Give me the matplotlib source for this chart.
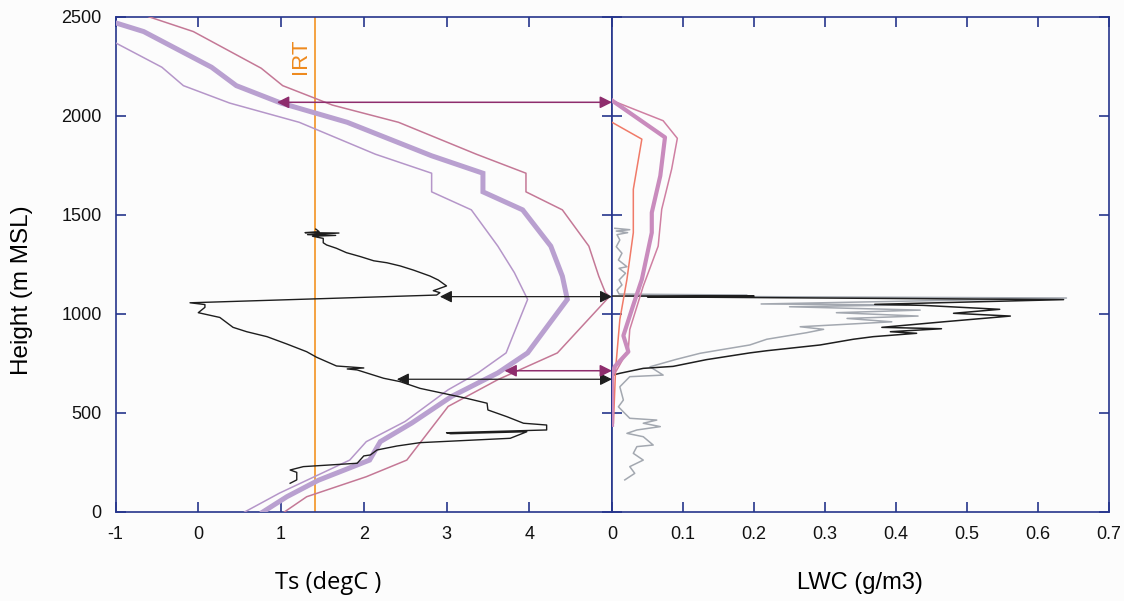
import numpy as np
import matplotlib
matplotlib.use('Agg')
import matplotlib.pyplot as plt

plt.rcParams['font.family'] = ['Liberation Sans', 'DejaVu Sans']

# ---- Ts panel (height in m MSL) ----
ts_mean_x = [-1.0, -0.66, 0.16, 0.46, 1.0, 1.80, 2.82, 3.44, 3.44, 3.92, 4.26, 4.40, 4.46, 3.98, 3.62, 3.06, 2.58, 2.20, 2.07, 1.45, 1.07, 0.78]
ts_mean_y = [2469, 2425, 2245, 2152, 2064, 1967, 1798, 1710, 1616, 1525, 1342, 1190, 1073, 803, 702, 583, 449, 355, 262, 160, 77, 0]

ts_hi_x = [-0.6, -0.06, 0.76, 1.02, 1.62, 2.42, 3.36, 3.96, 3.96, 4.40, 4.72, 4.84, 4.92, 4.97, 4.34, 3.62, 3.02, 2.52, 2.03, 1.31, 1.04]
ts_hi_y = [2500, 2425, 2240, 2152, 2054, 1967, 1806, 1710, 1616, 1525, 1342, 1190, 1107, 1088, 803, 668, 533, 262, 178, 77, 0]

ts_lo_x = [-1.0, -0.44, -0.18, 0.38, 1.22, 2.14, 2.82, 2.82, 3.30, 3.62, 3.82, 3.98, 3.80, 3.72, 3.38, 3.02, 2.50, 2.03, 1.83, 0.98, 0.56]
ts_lo_y = [2368, 2245, 2152, 2064, 1967, 1806, 1710, 1616, 1525, 1342, 1208, 1073, 887, 803, 702, 617, 457, 355, 262, 95, 0]

prof_ts_x = [1.42, 1.46, 1.29, 1.70, 1.32, 1.66, 1.38, 1.51, 1.51, 1.55, 1.67, 1.79, 1.96, 2.12, 2.28,
             2.44, 2.60, 2.80, 2.90, 3.00, 2.84, 2.92, 2.88, -0.10, 0.08, 0.08, 0.00, 0.26, 0.42, 0.585,
             0.83, 1.07, 1.31, 1.43, 1.67, 2.00, 1.80, 1.92, 2.24, 2.44, 2.68, 2.96, 3.24, 3.49, 3.50,
             3.73, 3.93, 4.21, 4.21, 3.00, 3.05, 3.97, 3.77, 2.68, 2.40, 2.16, 2.08, 2.00, 1.92, 1.27,
             1.11, 1.19, 1.19, 1.11]
prof_ts_y = [1428, 1415, 1410, 1408, 1400, 1396, 1392, 1381, 1359, 1348, 1331, 1309, 1289, 1268, 1258,
             1242, 1221, 1191, 1171, 1141, 1117, 1107, 1095, 1056, 1047, 1033, 1006, 982, 932, 910,
             885, 848, 809, 781, 737, 727, 722, 717, 675, 658, 624, 599, 574, 549, 515,
             481, 448, 439, 414, 400, 395, 405, 372, 350, 333, 313, 288, 283, 246, 229,
             212, 200, 162, 145]

irt_ts = 1.41

# ---- LWC panel ----
lwc_mean_x = [0.0, 0.0746, 0.068, 0.056, 0.056, 0.042, 0.030, 0.016, 0.023, 0.004, 0.0, 0.0]
lwc_mean_y = [2077, 1891, 1697, 1511, 1410, 1174, 1045, 890, 809, 735, 700, 440]

lwc_hi_x = [0.0, 0.072, 0.092, 0.084, 0.070, 0.065, 0.044, 0.025, 0.023, 0.007, 0.0]
lwc_hi_y = [2077, 1975, 1886, 1731, 1528, 1342, 1140, 921, 820, 718, 680]

lwc_lo_x = [0.0, 0.042, 0.030, 0.030, 0.021, 0.011, 0.007, 0.005, 0.002]
lwc_lo_y = [1967, 1882, 1629, 1410, 1174, 971, 803, 718, 449]

gray_x = [0.004, 0.025, 0.006, 0.022, 0.007, 0.011, 0.006, 0.014, 0.009, 0.021, 0.010, 0.019, 0.010, 0.014,
          0.007, 0.010, 0.190, 0.020, 0.640, 0.210, 0.415, 0.250, 0.434, 0.316, 0.431, 0.331, 0.394, 0.265,
          0.298, 0.274, 0.218, 0.194, 0.152, 0.124, 0.090, 0.0535, 0.072, 0.025, 0.011, 0.016, 0.009, 0.018,
          0.025, 0.063, 0.044, 0.068, 0.035, 0.021, 0.044, 0.058, 0.035, 0.030, 0.044, 0.025, 0.032, 0.018]
gray_y = [1432, 1425, 1418, 1410, 1400, 1373, 1339, 1306, 1272, 1238, 1230, 1205, 1171, 1146,
          1120, 1100, 1095, 1090, 1080, 1050, 1045, 1036, 1019, 1006, 989, 977, 960, 935,
          922, 905, 872, 843, 818, 801, 770, 733, 691, 683, 632, 565, 531, 498,
          473, 464, 448, 431, 414, 397, 380, 338, 330, 296, 262, 229, 195, 162]

prof_lwc_x = [0.0, 0.20, 0.05, 0.636, 0.37, 0.438, 0.546, 0.481, 0.561, 0.467, 0.380, 0.464, 0.392, 0.429,
              0.368, 0.340, 0.293, 0.218, 0.194, 0.133, 0.086, 0.044, 0.011, 0.0]
prof_lwc_y = [1090, 1090, 1086, 1072, 1048, 1043, 1023, 1003, 989, 960, 932, 925, 910, 902,
              885, 872, 843, 814, 803, 769, 735, 725, 700, 690]

# arrows: (start Ts, height) -> right edge of the Ts panel
arrows_black = [(2.92, 1087), (2.40, 670)]
arrows_purple = [(0.95, 2068), (3.70, 713)]

navy = '#26358c'
bg = '#fcfcfc'

fig = plt.figure(figsize=(11.24, 6.01), dpi=100, facecolor=bg)
ax1 = fig.add_axes([0.1028, 0.1481, 0.4417, 0.8241], facecolor=bg)
ax2 = fig.add_axes([0.5445, 0.1481, 0.4422, 0.8241], facecolor=bg)

ax1.axvline(irt_ts, color='#f39322', lw=1.2, zorder=2)
ax1.text(irt_ts - 0.17, 2300, 'IRT', rotation=90, color='#ee8a1e', fontsize=16,
         ha='center', va='center')

ax1.plot(ts_hi_x, ts_hi_y, color='#c47896', lw=1.1, zorder=3)
ax1.plot(ts_lo_x, ts_lo_y, color='#b596c9', lw=1.1, zorder=3)
ax1.plot(ts_mean_x, ts_mean_y, color='#b9a0d0', lw=3.6, zorder=3, solid_joinstyle='miter')
ax1.plot(prof_ts_x, prof_ts_y, color='#1e1e1e', lw=1.0, zorder=4)

for x0, y0 in arrows_black:
    ax1.annotate('', xy=(5, y0), xytext=(x0, y0),
                 arrowprops=dict(arrowstyle='<|-|>', color='#1e1e1e', lw=0.9,
                                 mutation_scale=18, shrinkA=0, shrinkB=0),
                 annotation_clip=False, zorder=5)
for x0, y0 in arrows_purple:
    ax1.annotate('', xy=(5, y0), xytext=(x0, y0),
                 arrowprops=dict(arrowstyle='<|-|>', color='#8e2d6d', lw=1.1,
                                 mutation_scale=18, shrinkA=0, shrinkB=0),
                 annotation_clip=False, zorder=5)

ax2.plot(gray_x, gray_y, color='#a3a8b0', lw=1.1, zorder=2)
ax2.plot(prof_lwc_x, prof_lwc_y, color='#1e1e1e', lw=1.1, zorder=3)
ax2.plot(lwc_lo_x, lwc_lo_y, color='#f07a68', lw=1.1, zorder=4)
ax2.plot(lwc_hi_x, lwc_hi_y, color='#cf7fa2', lw=1.1, zorder=4)
ax2.plot(lwc_mean_x, lwc_mean_y, color='#c98bbd', lw=3.0, zorder=4)

ax1.set_xlim(-1, 5)
ax1.set_ylim(0, 2500)
ax1.set_xticks([-1, 0, 1, 2, 3, 4, 5])
ax1.set_xticklabels(['-1', '0', '1', '2', '3', '4', ''])
ax1.set_yticks([0, 500, 1000, 1500, 2000, 2500])

ax2.set_xlim(0, 0.7)
ax2.set_ylim(0, 2500)
ax2.set_xticks([0, 0.1, 0.2, 0.3, 0.4, 0.5, 0.6, 0.7])
ax2.set_xticklabels(['0', '0.1', '0.2', '0.3', '0.4', '0.5', '0.6', '0.7'])
ax2.set_yticks([0, 500, 1000, 1500, 2000, 2500])

for ax in (ax1, ax2):
    for s in ax.spines.values():
        s.set_color(navy)
        s.set_linewidth(1.2)
    ax.tick_params(direction='in', length=7, width=1.2, color=navy, top=True, right=True,
                   labelsize=13, pad=10, labelcolor='#111111')
ax2.tick_params(labelleft=False)

fig.text(22 / 1124, 1 - 290 / 601, 'Height (m MSL)', rotation=90, fontsize=17.5,
         ha='center', va='center')
fig.text(328 / 1124, 1 - 583 / 601, 'Ts (degC )', fontsize=17, ha='center', va='center',
         family=['Open Sans', 'DejaVu Sans'])
fig.text(860 / 1124, 1 - 583 / 601, 'LWC (g/m3)', fontsize=17, ha='center', va='center')

fig.savefig('out.png', dpi=100, facecolor=bg)
